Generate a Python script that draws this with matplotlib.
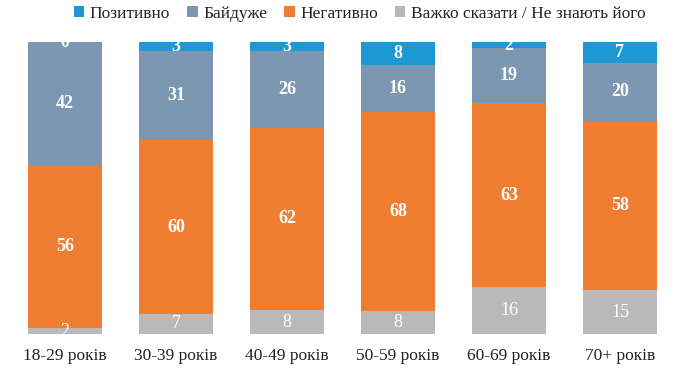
import matplotlib
matplotlib.use("Agg")
import matplotlib.pyplot as plt
import numpy as np

categories = ["18-29 років", "30-39 років", "40-49 років", "50-59 років", "60-69 років", "70+ років"]
hard_to_say = [2, 7, 8, 8, 16, 15]
negative = [56, 60, 62, 68, 63, 58]
indifferent = [42, 31, 26, 16, 19, 20]
positive = [0, 3, 3, 8, 2, 7]

series = [
    ("Важко сказати / Не знають його", hard_to_say, "#b9b9b9", "normal"),
    ("Негативно", negative, "#f07e32", "bold"),
    ("Байдуже", indifferent, "#7b97b1", "bold"),
    ("Позитивно", positive, "#1e98d4", "bold"),
]

plt.rcParams['font.family'] = ['Liberation Serif', 'DejaVu Serif']

fig = plt.figure(figsize=(6.89, 3.69), dpi=100)
ax = fig.add_axes([0.0138, 0.0949, 0.9666, 0.791])

x = np.arange(len(categories))
totals = np.sum([np.array(s[1], float) for s in series], axis=0)
bottom = np.zeros(len(categories))
handles = {}
for name, vals, color, weight in series:
    v = np.array(vals, float) / totals * 100
    b = ax.bar(x, v, 0.667, bottom=bottom, color=color, label=name, linewidth=0)
    handles[name] = b
    for xi, vi, bi, raw in zip(x, v, bottom, vals):
        ax.text(xi, bi + vi / 2, str(raw), ha="center", va="center",
                color="white", fontsize=13, fontweight=weight)
    bottom += v

ax.set_xlim(-0.5, len(categories) - 0.5)
ax.set_ylim(0, 100)
ax.set_yticks([])
ax.set_xticks(x)
ax.set_xticklabels(categories, fontsize=12.5, color="#222222")
ax.tick_params(axis="x", length=0, pad=10)
for s in ax.spines.values():
    s.set_visible(False)

order = ["Позитивно", "Байдуже", "Негативно", "Важко сказати / Не знають його"]
fig.legend([handles[n] for n in order], order, loc="center", bbox_to_anchor=(0.522, 0.962),
           ncol=4, frameon=False, fontsize=12.5, handlelength=0.6, handleheight=0.6,
           handletextpad=0.3, columnspacing=1.0, labelcolor="#222222")

fig.savefig("out.png", dpi=100)
